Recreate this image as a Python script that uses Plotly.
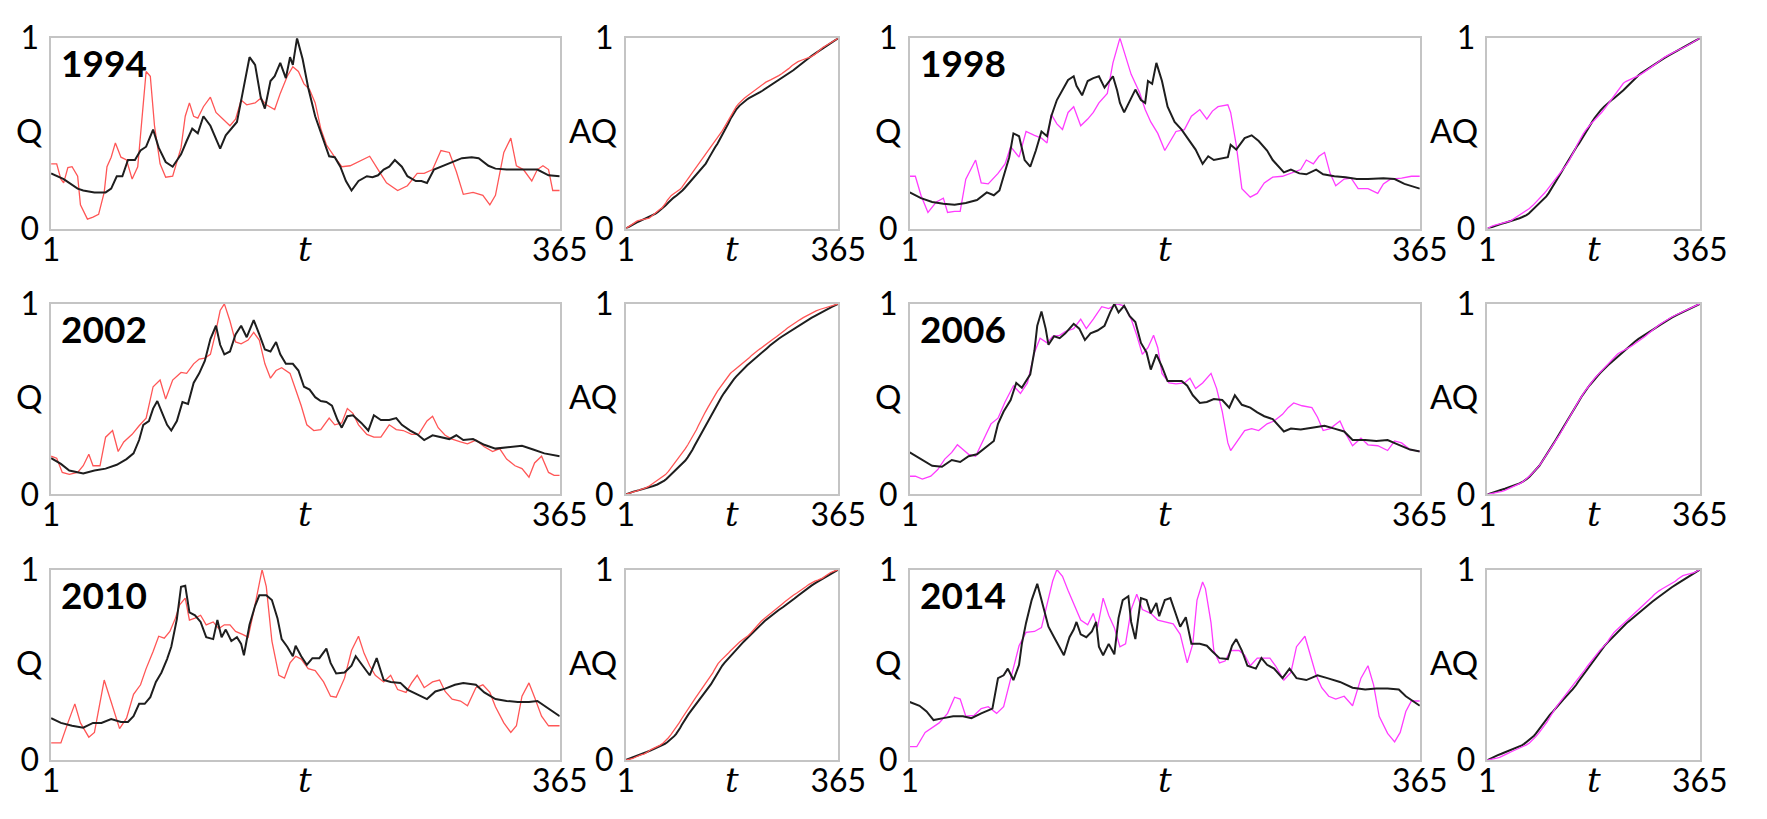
import numpy as np
import plotly.graph_objects as go

# ---------------- daily discharge Q (normalised), sampled days ----------------
# black series
t_1994_k = [1, 10, 20, 24, 32, 40, 44, 48, 52, 56, 61, 65, 69, 74, 78, 83, 88, 94, 98, 102,
            106, 110, 115, 122, 126, 130, 134, 138, 143, 147, 151, 154, 158, 161, 165, 169, 172, 174, 177, 181,
            185, 190, 196, 200, 204, 208, 212, 216, 221, 227, 231, 235, 239, 243, 247, 252, 256, 262, 266, 270,
            275, 282, 288, 295, 302, 307, 314, 319, 327, 335, 343, 349, 357, 365]
q_1994_k = [.29, .26, .21, .20, .19, .19, .21, .275, .275, .36, .36, .41, .43, .52, .425, .35, .325, .39, .46, .525,
            .50, .59, .54, .42, .49, .525, .56, .71, .90, .86, .69, .63, .775, .80, .87, .79, .90, .86, 1.0, .89,
            .74, .59, .46, .38, .375, .325, .25, .20, .25, .275, .27, .28, .31, .325, .36, .325, .275, .25, .25, .24,
            .31, .33, .35, .37, .375, .37, .33, .315, .31, .31, .31, .31, .28, .275]

t_1998_k = [1, 9, 17, 25, 33, 41, 49, 56, 61, 65, 68, 72, 75, 79, 83, 87, 91, 95, 99, 102,
            106, 110, 114, 118, 120, 124, 128, 132, 136, 140, 146, 149, 151, 154, 158, 162, 166, 169, 171, 174,
            177, 181, 185, 190, 195, 201, 205, 210, 214, 218, 224, 228, 230, 234, 240, 245, 250, 256, 260, 264,
            268, 273, 279, 284, 291, 296, 304, 312, 320, 328, 339, 347, 354, 365]
q_1998_k = [.19, .16, .14, .13, .125, .135, .15, .19, .175, .20, .275, .375, .50, .485, .36, .325, .41, .51, .485, .59,
            .675, .725, .78, .80, .75, .70, .775, .79, .80, .74, .80, .725, .66, .61, .67, .73, .675, .66, .775, .76,
            .87, .775, .64, .56, .52, .46, .415, .34, .38, .36, .37, .375, .44, .415, .475, .49, .46, .41, .36, .325,
            .295, .31, .29, .285, .31, .285, .275, .27, .26, .26, .265, .26, .235, .21]

t_2002_k = [1, 8, 14, 24, 32, 40, 48, 55, 60, 64, 67, 71, 74, 77, 80, 84, 87, 91, 95, 99,
            103, 107, 111, 115, 119, 122, 125, 129, 133, 137, 141, 146, 150, 154, 158, 162, 165, 169, 174, 178,
            182, 186, 190, 194, 198, 202, 206, 209, 213, 217, 223, 228, 232, 237, 243, 248, 252, 258, 263, 268,
            274, 279, 286, 291, 296, 303, 311, 319, 327, 338, 346, 354, 365]
q_2002_k = [.19, .16, .125, .11, .125, .135, .155, .185, .215, .285, .365, .385, .45, .49, .435, .365, .335, .385, .485, .475,
            .585, .635, .70, .815, .885, .785, .735, .75, .84, .885, .825, .915, .84, .76, .75, .80, .735, .685, .685, .65,
            .565, .55, .51, .49, .485, .465, .39, .35, .41, .415, .375, .335, .415, .39, .39, .40, .365, .335, .315, .285,
            .31, .30, .29, .31, .285, .29, .26, .24, .245, .255, .235, .215, .20]

t_2006_k = [1, 9, 17, 24, 31, 37, 43, 49, 56, 61, 64, 68, 73, 77, 81, 87, 90, 92, 95, 98,
            100, 104, 108, 112, 118, 122, 126, 130, 135, 140, 144, 147, 150, 154, 158, 162, 166, 170, 173, 177,
            181, 185, 190, 195, 199, 203, 208, 213, 218, 224, 229, 233, 238, 244, 249, 254, 260, 264, 268, 273,
            280, 288, 297, 304, 311, 317, 326, 334, 342, 350, 358, 365]
q_2006_k = [.22, .185, .15, .145, .18, .17, .20, .21, .25, .28, .37, .435, .495, .585, .56, .63, .755, .885, .96, .87,
            .785, .83, .82, .845, .895, .87, .81, .845, .86, .885, .955, 1.0, .955, .99, .935, .905, .795, .745, .655, .735,
            .67, .595, .595, .595, .57, .52, .48, .485, .50, .495, .455, .52, .47, .455, .43, .41, .395, .36, .33, .345,
            .34, .35, .36, .345, .33, .285, .285, .28, .285, .26, .235, .225]

t_2010_k = [1, 8, 16, 24, 31, 37, 44, 51, 56, 60, 64, 68, 72, 76, 80, 84, 87, 91, 94, 97,
            100, 104, 108, 112, 117, 120, 123, 126, 130, 134, 137, 139, 143, 147, 150, 155, 159, 163, 166, 170,
            174, 176, 180, 184, 188, 193, 198, 201, 205, 211, 216, 219, 224, 229, 234, 239, 244, 251, 256, 263,
            270, 276, 283, 290, 296, 305, 311, 319, 327, 335, 343, 349, 357, 365]
q_2010_k = [.22, .195, .18, .17, .195, .195, .215, .20, .20, .23, .295, .295, .33, .41, .46, .53, .595, .74, .91, .915,
            .775, .76, .725, .645, .635, .735, .645, .685, .625, .645, .61, .55, .71, .81, .865, .865, .84, .745, .635, .595,
            .545, .60, .545, .50, .535, .535, .585, .51, .455, .46, .495, .545, .495, .445, .535, .42, .41, .405, .37, .345,
            .32, .36, .375, .395, .405, .395, .355, .32, .31, .305, .305, .31, .27, .23]

t_2014_k = [1, 8, 13, 18, 25, 32, 39, 45, 52, 60, 64, 68, 71, 75, 79, 81, 84, 88, 92, 95,
            100, 104, 108, 111, 115, 118, 120, 123, 127, 131, 134, 136, 139, 143, 147, 150, 153, 157, 159, 162,
            166, 170, 173, 177, 179, 183, 187, 191, 194, 198, 202, 208, 213, 217, 222, 228, 231, 234, 238, 242,
            248, 252, 256, 261, 267, 272, 277, 284, 292, 299, 308, 317, 326, 334, 342, 350, 355, 365]
q_2014_k = [.305, .285, .255, .21, .22, .23, .23, .22, .245, .27, .43, .445, .48, .42, .50, .61, .72, .84, .925, .84,
            .70, .645, .595, .55, .645, .685, .725, .66, .645, .675, .725, .595, .55, .61, .555, .745, .84, .86, .725, .635,
            .85, .84, .77, .825, .755, .84, .85, .77, .70, .75, .61, .61, .60, .57, .535, .53, .60, .635, .575, .495,
            .48, .535, .50, .48, .43, .48, .43, .42, .445, .43, .41, .38, .37, .375, .375, .37, .335, .285]

# coloured series (red for the left column, magenta for the right column)
t_1994_c = [1, 5, 8, 10, 13, 16, 20, 22, 27, 31, 35, 39, 41, 44, 47, 51, 55, 59, 63, 66,
            69, 72, 75, 79, 83, 88, 94, 97, 100, 103, 106, 110, 115, 119, 125, 129, 133, 137, 141, 147,
            151, 155, 161, 165, 170, 174, 178, 182, 186, 190, 194, 198, 204, 209, 215, 221, 229, 235, 241, 249,
            256, 263, 268, 274, 280, 286, 291, 296, 303, 310, 315, 319, 325, 330, 334, 339, 345, 349, 353, 357,
            360, 365]
q_1994_c = [.34, .34, .26, .24, .32, .325, .275, .125, .05, .06, .075, .19, .325, .375, .45, .375, .36, .26, .325, .59,
            .825, .80, .54, .34, .27, .275, .425, .59, .66, .59, .58, .64, .69, .61, .57, .54, .575, .675, .65, .66,
            .685, .65, .625, .71, .80, .85, .825, .76, .73, .66, .525, .44, .375, .325, .33, .35, .38, .31, .24, .20,
            .225, .29, .29, .31, .41, .40, .30, .18, .19, .175, .125, .175, .40, .475, .33, .31, .25, .31, .33, .31,
            .20, .20]

t_1998_c = [1, 5, 9, 14, 20, 25, 28, 33, 37, 41, 48, 52, 57, 64, 69, 73, 79, 84, 90, 95,
            99, 102, 106, 110, 114, 118, 123, 128, 132, 136, 142, 146, 151, 155, 159, 165, 169, 173, 178, 183,
            187, 191, 197, 202, 208, 213, 217, 221, 228, 230, 234, 238, 244, 249, 254, 260, 267, 275, 280, 284,
            289, 293, 297, 301, 305, 311, 316, 321, 328, 335, 339, 344, 352, 359, 365]
q_1998_c = [.275, .275, .175, .085, .14, .16, .085, .09, .09, .26, .36, .24, .235, .29, .34, .43, .375, .51, .49, .475,
            .45, .60, .55, .52, .61, .64, .54, .575, .61, .66, .71, .87, 1.0, .90, .81, .715, .625, .56, .50, .41,
            .46, .51, .52, .59, .625, .575, .617, .64, .65, .61, .44, .21, .165, .185, .24, .27, .275, .295, .31, .36,
            .34, .38, .40, .29, .225, .26, .265, .21, .21, .185, .235, .26, .265, .275, .275]

t_2002_c = [1, 5, 9, 14, 20, 24, 28, 31, 36, 40, 45, 49, 53, 59, 64, 69, 74, 79, 83, 88,
            94, 98, 103, 107, 111, 115, 118, 122, 125, 129, 133, 137, 142, 146, 150, 154, 158, 162, 166, 172,
            176, 180, 184, 189, 194, 200, 204, 209, 213, 217, 221, 227, 232, 237, 243, 248, 253, 259, 264, 270,
            274, 278, 283, 288, 294, 299, 305, 311, 317, 322, 327, 333, 338, 343, 347, 352, 357, 361, 365]
q_2002_c = [.20, .19, .115, .105, .115, .15, .21, .15, .15, .30, .335, .225, .275, .315, .36, .40, .565, .60, .50, .60,
            .64, .635, .685, .71, .715, .735, .825, .965, 1.0, .91, .80, .79, .81, .85, .81, .685, .61, .65, .665, .635,
            .55, .465, .365, .335, .34, .40, .365, .375, .45, .425, .365, .315, .30, .30, .365, .34, .335, .315, .315, .385,
            .41, .35, .31, .29, .275, .265, .285, .25, .225, .24, .185, .15, .135, .09, .165, .20, .115, .10, .10]

t_2006_c = [1, 5, 10, 16, 21, 26, 31, 35, 39, 43, 48, 53, 59, 64, 69, 75, 80, 85, 90, 94,
            99, 103, 108, 112, 118, 123, 127, 132, 138, 143, 149, 154, 159, 163, 167, 171, 175, 178, 181, 186,
            191, 197, 201, 205, 210, 216, 220, 224, 228, 230, 234, 240, 245, 250, 256, 261, 267, 271, 275, 281,
            288, 292, 296, 301, 308, 312, 317, 323, 328, 335, 342, 347, 352, 358, 365]
q_2006_c = [.095, .095, .08, .095, .13, .185, .22, .26, .235, .21, .20, .28, .37, .40, .485, .57, .53, .585, .745, .82,
            .795, .83, .835, .855, .87, .92, .87, .92, .985, .975, 1.0, .99, .92, .835, .735, .77, .835, .77, .635, .585,
            .58, .585, .61, .555, .585, .635, .555, .435, .27, .23, .27, .335, .345, .335, .37, .385, .42, .455, .48, .465,
            .455, .405, .335, .345, .385, .32, .255, .295, .26, .255, .23, .28, .27, .235, .225]

t_2010_c = [1, 8, 13, 18, 22, 28, 32, 36, 39, 44, 50, 55, 60, 65, 69, 74, 78, 82, 86, 90,
            93, 97, 100, 104, 108, 112, 117, 121, 125, 129, 133, 138, 142, 146, 150, 152, 155, 159, 164, 168,
            172, 176, 180, 185, 190, 196, 201, 205, 211, 216, 221, 225, 229, 233, 239, 244, 249, 255, 259, 263,
            268, 274, 279, 283, 288, 294, 299, 305, 310, 315, 319, 325, 330, 334, 338, 343, 347, 352, 357, 365]
q_2010_c = [.09, .09, .195, .295, .195, .12, .145, .295, .42, .305, .165, .22, .345, .395, .48, .57, .65, .64, .675, .745,
            .815, .85, .735, .745, .76, .71, .725, .69, .71, .71, .675, .66, .645, .78, .925, 1.0, .91, .625, .445, .43,
            .51, .545, .53, .48, .47, .41, .335, .33, .43, .575, .65, .56, .495, .445, .41, .445, .37, .355, .405, .445,
            .38, .41, .42, .36, .32, .31, .285, .38, .395, .355, .28, .195, .145, .18, .335, .405, .33, .23, .18, .18]

t_2014_c = [1, 6, 12, 17, 22, 28, 33, 37, 41, 47, 52, 57, 63, 68, 73, 79, 84, 90, 95, 99,
            103, 106, 110, 114, 118, 123, 128, 132, 135, 139, 143, 147, 151, 155, 159, 163, 167, 173, 178, 183,
            189, 194, 199, 203, 206, 210, 212, 216, 218, 222, 226, 230, 236, 240, 244, 249, 254, 258, 262, 268,
            273, 277, 283, 287, 291, 295, 300, 305, 311, 317, 323, 328, 332, 336, 342, 347, 351, 355, 359, 365]
q_2014_c = [.07, .07, .145, .17, .195, .245, .33, .32, .23, .235, .27, .28, .245, .28, .43, .60, .67, .675, .695, .81,
            .94, 1.0, .965, .89, .825, .735, .71, .77, .695, .85, .76, .695, .595, .61, .79, .87, .79, .77, .735, .725,
            .715, .66, .51, .61, .84, .935, .90, .72, .575, .51, .52, .575, .575, .55, .495, .535, .535, .535, .495, .42,
            .46, .595, .65, .545, .445, .38, .335, .32, .335, .285, .43, .495, .395, .23, .14, .095, .145, .255, .31, .31]

years = ["1994", "1998", "2002", "2006", "2010", "2014"]
x_ticks = [1, 365]
x_tick_text = ["1", "365"]
y_ticks = [0, 1]
y_tick_text = ["0", "1"]

series = {
    "1994": (t_1994_k, q_1994_k, t_1994_c, q_1994_c),
    "1998": (t_1998_k, q_1998_k, t_1998_c, q_1998_c),
    "2002": (t_2002_k, q_2002_k, t_2002_c, q_2002_c),
    "2006": (t_2006_k, q_2006_k, t_2006_c, q_2006_c),
    "2010": (t_2010_k, q_2010_k, t_2010_c, q_2010_c),
    "2014": (t_2014_k, q_2014_k, t_2014_c, q_2014_c),
}


def accumulate(t, q):
    """Accumulated discharge AQ: running trapezoidal integral scaled to end at 1."""
    t = np.asarray(t, float)
    q = np.asarray(q, float)
    inc = np.diff(t) * (q[1:] + q[:-1]) / 2.0
    c = np.concatenate([[0.0], np.cumsum(inc)])
    return c / c[-1]


# ---------------- layout geometry (pixels) ----------------
W, H = 1767, 819
COLS = [(43, 562.5), (630, 847), (920, 1441), (1510, 1727)]
ROWS = [(18, 218), (297, 497), (576, 776)]

BLACK = "#1e1e1e"
RED = "#ff5656"
MAGENTA = "#ff3cff"
FONT = "Lato"
TFONT = "DejaVu Serif"
BORDER = "#c4c4c4"
TICK_SIZE = 32

fig = go.Figure()
annotations = []


def add_axes(n, col, row, ylabel):
    x0, x1 = COLS[col]
    y0, y1 = ROWS[row]
    sfx = "" if n == 1 else str(n)
    fig.layout["xaxis" + sfx] = dict(
        domain=[x0 / W, x1 / W], anchor="y" + sfx, range=[1, 365],
        tickvals=x_ticks, ticktext=x_tick_text, ticks="", showgrid=False, zeroline=False,
        showline=True, mirror=True, linecolor=BORDER, linewidth=1.5,
        tickfont=dict(family=FONT, size=TICK_SIZE, color="black"), ticklabelstandoff=-8,
    )
    fig.layout["yaxis" + sfx] = dict(
        domain=[1 - y1 / H, 1 - y0 / H], anchor="x" + sfx, range=[0, 1],
        tickvals=y_ticks, ticktext=y_tick_text, ticks="", showgrid=False, zeroline=False,
        showline=True, mirror=True, linecolor=BORDER, linewidth=1.5,
        tickfont=dict(family=FONT, size=TICK_SIZE, color="black"), ticklabelstandoff=4,
    )
    xr, yr = "x" + sfx + " domain", "y" + sfx + " domain"
    annotations.append(dict(text=ylabel, xref=xr, yref=yr, x=0, y=0.5, xanchor="right", yanchor="middle",
                            xshift=-7, yshift=3, showarrow=False,
                            font=dict(family=FONT, size=33, color="black")))
    annotations.append(dict(text="<i>t</i>", xref=xr, yref=yr, x=0.5, y=0, xanchor="center", yanchor="top",
                            yshift=2, showarrow=False, font=dict(family=TFONT, size=34, color="black")))
    return "x" + sfx, "y" + sfx, xr, yr


n = 1
for k, yr_label in enumerate(years):
    row = k // 2
    qcol = (k % 2) * 2
    colour = RED if k % 2 == 0 else MAGENTA
    tk, qk, tc, qc = series[yr_label]

    xa, ya, xr, yrf = add_axes(n, qcol, row, "Q")
    fig.add_trace(go.Scatter(x=tc, y=qc, mode="lines", line=dict(color=colour, width=1.3),
                             xaxis=xa, yaxis=ya, showlegend=False, hoverinfo="skip"))
    fig.add_trace(go.Scatter(x=tk, y=qk, mode="lines", line=dict(color=BLACK, width=2),
                             xaxis=xa, yaxis=ya, showlegend=False, hoverinfo="skip"))
    annotations.append(dict(text="<b>" + yr_label + "</b>", xref=xr, yref=yrf, x=0, y=1,
                            xanchor="left", yanchor="top", xshift=8, yshift=0, showarrow=False,
                            font=dict(family=FONT, size=37, color="black")))
    n += 1

    xa, ya, _, _ = add_axes(n, qcol + 1, row, "AQ")
    fig.add_trace(go.Scatter(x=tk, y=accumulate(tk, qk), mode="lines", line=dict(color=BLACK, width=2),
                             xaxis=xa, yaxis=ya, showlegend=False, hoverinfo="skip"))
    fig.add_trace(go.Scatter(x=tc, y=accumulate(tc, qc), mode="lines", line=dict(color=colour, width=1.3),
                             xaxis=xa, yaxis=ya, showlegend=False, hoverinfo="skip"))
    n += 1

fig.update_layout(
    width=W, height=H, margin=dict(l=0, r=0, t=0, b=0),
    paper_bgcolor="white", plot_bgcolor="white",
    annotations=annotations, showlegend=False,
)

fig.write_html("out.html")
